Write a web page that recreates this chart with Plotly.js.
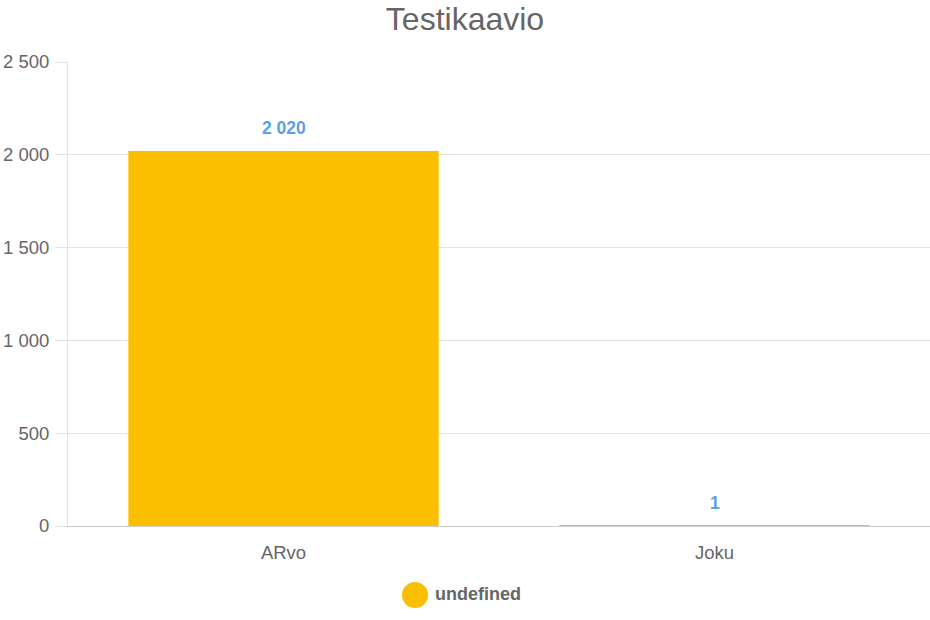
<!DOCTYPE html>
<html>
<head>
<meta charset="utf-8">
<script src="https://cdn.plot.ly/plotly-3.0.1.min.js"></script>
<style>html,body{margin:0;padding:0;background:#fff;}#chart{width:930px;height:620px;}</style>
</head>
<body>
<div id="chart"></div>
<script>
const categories = ["ARvo", "Joku"];
const values = [2020, 1];
const seriesName = "undefined";
const chartTitle = "Testikaavio";

function fmt(v) {
  return String(v).replace(/\B(?=(\d{3})+(?!\d))/g, " ");
}

const FONT = "'Liberation Sans', Arial, sans-serif";

const trace = {
  type: "bar",
  x: categories,
  y: values,
  name: seriesName,
  marker: { color: "#FBBF00" },
  hoverinfo: "x+y",
  showlegend: false
};

const annotations = categories.map((c, i) => ({
  x: c, y: values[i], xref: "x", yref: "y",
  text: "<b>" + fmt(values[i]) + "</b>",
  showarrow: false, yshift: 23,
  font: { family: FONT, size: 17.5, color: "#5AA0E6" }
}));
annotations.push({
  xref: "paper", yref: "paper", x: 0.4235, y: -0.1466, xanchor: "left", yanchor: "middle",
  text: "<b>" + seriesName + "</b>", showarrow: false,
  font: { family: FONT, size: 18, color: "#666666" }
});

const layout = {
  width: 930, height: 620,
  margin: { l: 68, r: 0, t: 62, b: 94 },
  paper_bgcolor: "#fff", plot_bgcolor: "#fff",
  separators: ", ",
  title: { text: chartTitle, x: 0.5, xanchor: "center", y: 0.97, yanchor: "middle",
    font: { family: FONT, size: 32, color: "#666666" } },
  font: { family: FONT, size: 18, color: "#666666" },
  bargap: 0.28,
  showlegend: false,
  xaxis: {
    type: "category", showgrid: false, showline: true, linecolor: "#cccccc", linewidth: 1,
    ticks: "", tickfont: { family: FONT, size: 18.5, color: "#666666" }, zeroline: false,
    ticklabelstandoff: 10, layer: "below traces"
  },
  yaxis: {
    range: [0, 2500], tick0: 0, dtick: 500, showgrid: true, gridcolor: "#e3e3e3",
    ticks: "outside", ticklen: 12, tickcolor: "#e3e3e3", showline: true, linecolor: "#e3e3e3",
    zeroline: false, tickfont: { family: FONT, size: 18.5, color: "#666666" }, tickformat: ",d",
    ticklabelstandoff: 2, layer: "below traces"
  },
  shapes: [{
    type: "circle", xref: "paper", yref: "paper",
    x0: 0.3875, x1: 0.4177, y0: -0.1207, y1: -0.1767,
    fillcolor: "#FBBF00", line: { width: 0 }
  }],
  annotations: annotations
};

Plotly.newPlot("chart", [trace], layout, { displayModeBar: false, responsive: false });
</script>
</body>
</html>
